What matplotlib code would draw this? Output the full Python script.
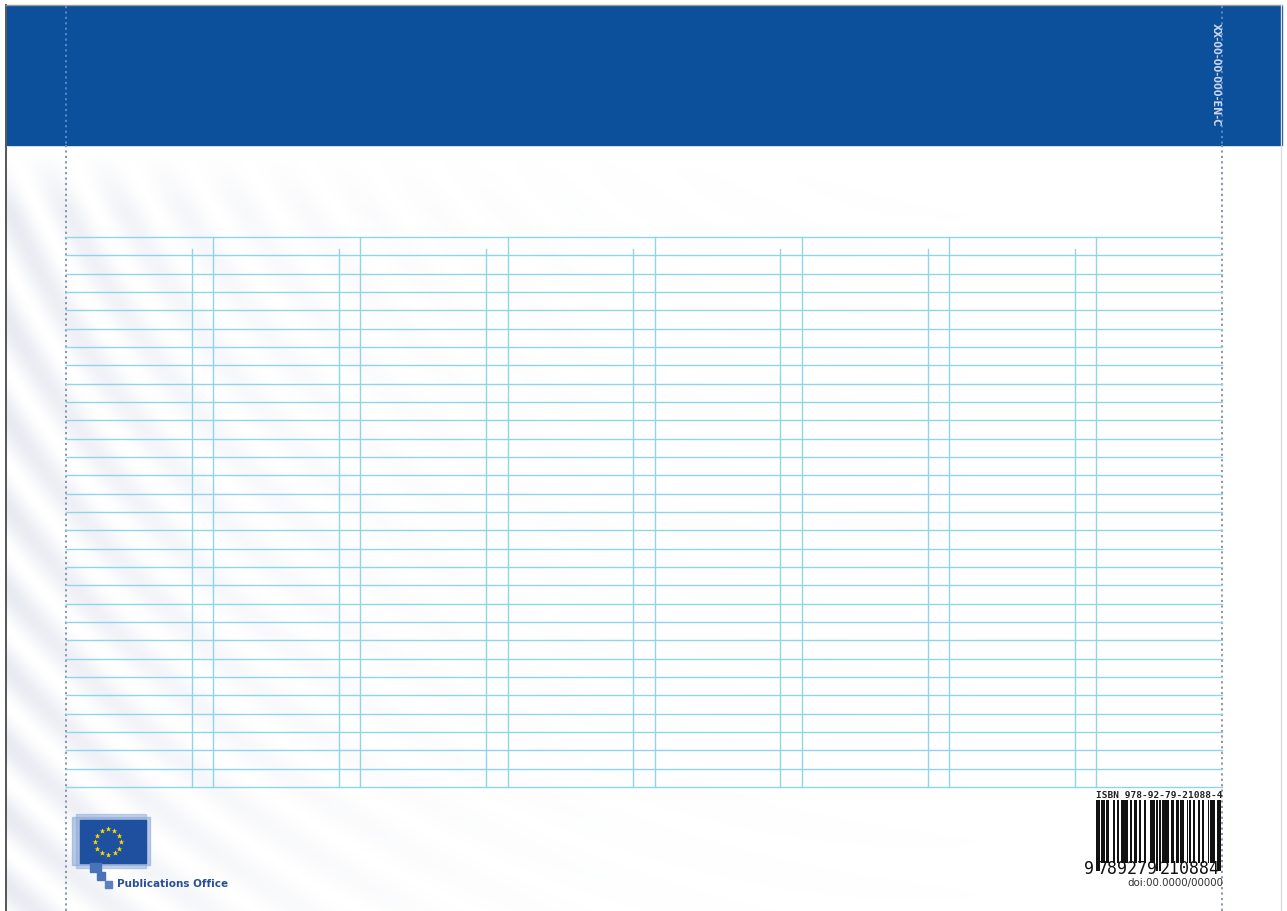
#%%
# Publications Office back cover with ruled table

import matplotlib.pyplot as plt
import matplotlib.patches as mpatches
import numpy as np

# page text
code_text = 'XX-00-00-000-EN-C'
isbn_text = 'ISBN 978-92-79-21088-4'
ean_digits = '9789279210884'
doi_text = 'doi:00.0000/00000'
logo_text = 'Publications Office'

# ruled table: 8 wide columns separated by narrow ones, 30 rows
n_wide_cols = 8
n_rows = 30

W, H = 1287, 911
blue = '#0c4f9b'
rule = '#8fd3ec'

fig = plt.figure(figsize=(W / 100, H / 100), dpi=100)
ax = fig.add_axes([0, 0, 1, 1])
ax.set_xlim(0, W)
ax.set_ylim(H, 0)
ax.axis('off')

# faint arc pattern on the left (background)
xx, yy = np.meshgrid(np.arange(7, 1282), np.arange(145, H))
r = np.hypot(xx - 1000, yy + 250)
band = 0.5 + 0.5 * np.cos(2 * np.pi * r / 52)
fade = np.exp(-(xx - 7) / 200.0) * np.clip((yy - 150) / 60.0, 0, 1)
img = np.zeros(xx.shape + (4,))
img[..., 0], img[..., 1], img[..., 2] = 0.82, 0.84, 0.90
img[..., 3] = 0.5 * band * fade
ax.imshow(img, extent=[7, 1282, H, 145], aspect='auto', zorder=0, interpolation='bilinear')

# frame
ax.plot([6, 6], [5, H], color='#555555', lw=1.4, zorder=5)
ax.plot([6, 1282], [5, 5], color='#999999', lw=1.0, zorder=5)
ax.plot([1281, 1281], [5, H], color='#dddddd', lw=1.0, zorder=5)

# blue band on top
ax.add_patch(mpatches.Rectangle((6.5, 6), 1275, 139, color=blue, zorder=1))

# dotted trim lines
for xd in [66, 1222]:
    ax.plot([xd, xd], [6, 145], color='#5d8bd0', lw=1.3, ls=(0, (1.2, 1.8)), zorder=2)
    ax.plot([xd, xd], [145, H], color='#7f8ea8', lw=1.3, ls=(0, (1.2, 1.8)), zorder=2)

ax.text(1216, 75, code_text, rotation=-90, ha='center', va='center',
        fontsize=7, fontweight='bold', color='#c9d6ee', zorder=3)

# table rules
x0, x1 = 66, 1222
y0, y1 = 237, 787
narrow = 21.7
wide = (x1 - x0 - narrow * (n_wide_cols - 1)) / n_wide_cols
for yr in np.linspace(y0, y1, n_rows + 1):
    ax.plot([x0, x1], [yr, yr], color=rule, lw=1.0, zorder=2)
for i in range(1, n_wide_cols):
    xa = x0 + i * wide + (i - 1) * narrow
    ax.plot([xa, xa], [249, y1], color=rule, lw=1.0, zorder=2)
    ax.plot([xa + narrow, xa + narrow], [y0, y1], color=rule, lw=1.0, zorder=2)

# Publications Office logo
halo = '#8ea9d8'
ax.add_patch(mpatches.Rectangle((72, 817), 78, 48, color=halo, alpha=0.6, zorder=3))
ax.add_patch(mpatches.Rectangle((76, 814), 70, 54, color=halo, alpha=0.5, zorder=3))
ax.add_patch(mpatches.Rectangle((80, 820), 66, 43, color='#1f4f9f', zorder=4))
ax.add_patch(mpatches.Rectangle((90, 863), 11, 9, color='#4a72b8', zorder=4))
ax.add_patch(mpatches.Rectangle((97, 872), 8, 8, color='#4a72b8', zorder=4))
ax.add_patch(mpatches.Rectangle((105, 881), 7, 7, color='#5a80c0', zorder=4))
ang = np.linspace(0, 2 * np.pi, 13)[:-1]
ax.plot(108 + 13 * np.cos(ang), 842 + 13 * np.sin(ang), ls='none', marker='*',
        ms=4, color='#ffdd00', mec='none', zorder=5)
ax.text(117, 884, logo_text, ha='left', va='center', fontsize=7.5,
        fontweight='bold', color='#2a4f98', family='Liberation Sans Narrow', zorder=5)

# EAN-13 barcode
L = ['0001101', '0011001', '0010011', '0111101', '0100011',
     '0110001', '0101111', '0111011', '0110111', '0001011']
G = ['0100111', '0110011', '0011011', '0100001', '0011101',
     '0111001', '0000101', '0010001', '0001001', '0010111']
R = ['1110010', '1100110', '1101100', '1000010', '1011100',
     '1001110', '1010000', '1000100', '1001000', '1110100']
parity = ['LLLLLL', 'LLGLGG', 'LLGGLG', 'LLGGGL', 'LGLLGG',
          'LGGLLG', 'LGGGLL', 'LGLGLG', 'LGLGGL', 'LGGLGL']
d = [int(c) for c in ean_digits]
bits = '101'
for k, p in zip(d[1:7], parity[d[0]]):
    bits += L[k] if p == 'L' else G[k]
bits += '01010'
for k in d[7:]:
    bits += R[k]
bits += '101'
guard = set(list(range(3)) + list(range(45, 50)) + list(range(92, 95)))
bx0, bx1 = 1096, 1221
mw = (bx1 - bx0) / len(bits)
i = 0
while i < len(bits):
    if bits[i] == '1':
        j = i
        while j < len(bits) and bits[j] == '1':
            j += 1
        h = 71 if i in guard else 63
        ax.add_patch(mpatches.Rectangle((bx0 + i * mw - 0.25, 800), (j - i) * mw + 0.5, h,
                                        color='#111111', lw=0, zorder=4))
        i = j
    else:
        i += 1
ax.text(1222, 796, isbn_text, ha='right', va='center', fontsize=6.8,
        family='DejaVu Sans Mono', fontweight='bold', color='#222222', zorder=5)
ax.text(bx0 - 2, 869, ean_digits[0], ha='right', va='center', fontsize=12,
        family='DejaVu Sans Mono', color='#111111', zorder=5)
ax.text(bx0 + 24 * mw, 869, ean_digits[1:7], ha='center', va='center',
        fontsize=12, family='DejaVu Sans Mono', color='#111111', zorder=5)
ax.text(bx0 + 71 * mw, 869, ean_digits[7:], ha='center', va='center',
        fontsize=12, family='DejaVu Sans Mono', color='#111111', zorder=5)
ax.text(1223, 883, doi_text, ha='right', va='center', fontsize=7.4,
        color='#333333', zorder=5)

fig.savefig('out.png', dpi=100, facecolor='white')
